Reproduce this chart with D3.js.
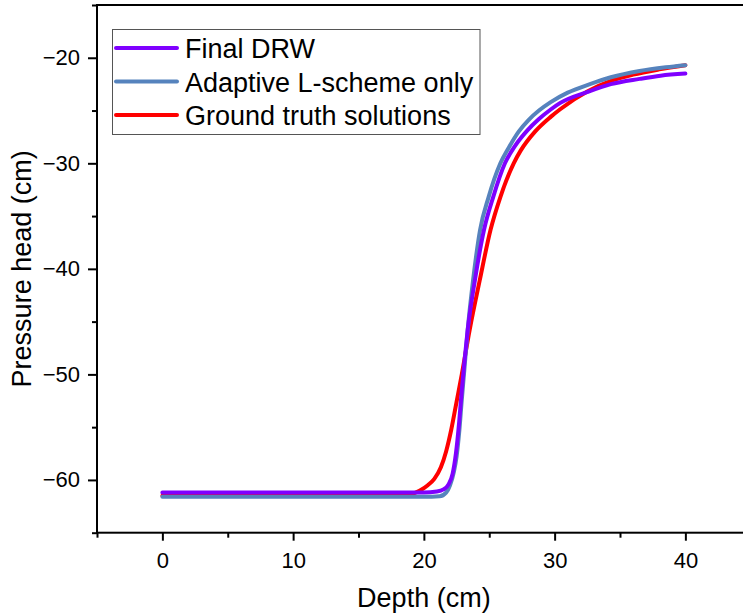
<!DOCTYPE html>
<html>
<head>
<meta charset="utf-8">
<script src="https://cdn.jsdelivr.net/npm/d3@7"></script>
<style>
  html, body { margin: 0; padding: 0; background: #fff; overflow: hidden; }
  svg { display: block; font-family: "Liberation Sans", Arial, sans-serif; }
</style>
</head>
<body>
<svg id="chart" width="743" height="613"></svg>
<script>
// Pressure head profiles along depth: [depth (cm), pressure head (cm)]
const finalDRW = [
  [0, -61.2], [10, -61.2], [20, -61.2], [21, -61.1], [21.5, -60.9], [21.9, -60.4],
  [22.2, -59.4], [22.45, -57.5], [22.7, -54.5], [22.9, -51.5], [23.1, -48.8],
  [23.35, -45.8], [23.9, -41.1], [24.6, -36.3], [25.3, -33.2], [26.2, -30.0],
  [27, -28.3], [27.9, -26.9], [28.8, -25.8], [29.7, -24.9], [30.4, -24.3],
  [32.6, -23.2], [34.3, -22.5], [36.5, -22.0], [38.1, -21.7], [40, -21.5]
];
const adaptiveL = [
  [0, -61.6], [10, -61.6], [20, -61.6], [21.2, -61.55], [21.7, -61.2], [22.0, -60.5],
  [22.3, -59.2], [22.5, -57.8], [22.7, -55.5], [22.9, -52.4], [23.1, -49.5],
  [23.35, -45.8], [23.76, -41.1], [24.3, -36.3], [24.95, -33.2], [25.85, -30.0],
  [26.5, -28.5], [27.25, -27.0], [28, -25.9], [28.8, -25.0], [29.7, -24.2],
  [31, -23.3], [32.7, -22.5], [34.3, -21.85], [36.5, -21.25], [38.5, -20.9], [40, -20.7]
];
const groundTruth = [
  [0, -61.5], [10, -61.5], [17, -61.5], [18.3, -61.45], [19, -61.35], [19.7, -61.0],
  [20.3, -60.5], [20.8, -59.9], [21.3, -58.8], [21.7, -57.3], [22.1, -55.2],
  [22.5, -52.6], [22.9, -50.0], [23.5, -45.8], [24.27, -41.1], [25.1, -36.3],
  [25.85, -33.2], [26.87, -30.0], [27.4, -28.8], [28.5, -27.0], [29.7, -25.6],
  [30.4, -24.9], [32.5, -23.2], [34.3, -22.2], [36, -21.6], [38, -21.1], [40, -20.7]
];

const seriesNames = ["Final DRW", "Adaptive L-scheme only", "Ground truth solutions"];
const seriesColors = ["#7f00ff", "#5683bd", "#ff0000"];
const seriesData = [finalDRW, adaptiveL, groundTruth];

const xMajorTicks = [0, 10, 20, 30, 40];
const xMinorTicks = [-5, 5, 15, 25, 35, 45];
const yMajorTicks = [-20, -30, -40, -50, -60];
const yMinorTicks = [-15, -25, -35, -45, -55, -65];

const svg = d3.select("#chart");
const plotLeft = 97, plotTop = 5, plotRight = 750.75, plotBottom = 532.7;

const x = d3.scaleLinear().domain([-5, 45]).range([plotLeft, plotRight]);
const y = d3.scaleLinear().domain([-65, -15]).range([plotBottom, plotTop]);

const fmt = d => d < 0 ? "\u2212" + Math.abs(d) : String(d);

// frame
svg.append("rect")
  .attr("x", plotLeft).attr("y", plotTop)
  .attr("width", plotRight - plotLeft).attr("height", plotBottom - plotTop)
  .attr("fill", "none").attr("stroke", "#000").attr("stroke-width", 2);

// bottom axis
const gx = svg.append("g").attr("transform", `translate(0,${plotBottom})`);
gx.call(d3.axisBottom(x).tickValues(xMajorTicks).tickSize(8).tickFormat(fmt));
gx.append("g").call(d3.axisBottom(x).tickValues(xMinorTicks).tickSize(5).tickFormat(""));
gx.selectAll(".domain").remove();
gx.selectAll("line").attr("stroke", "#000").attr("stroke-width", 2);
gx.selectAll("text").attr("font-size", 22).attr("fill", "#000")
  .attr("font-family", "Liberation Sans, Arial, sans-serif")
  .attr("y", 35).attr("dy", 0);

// left axis
const gy = svg.append("g").attr("transform", `translate(${plotLeft},0)`);
gy.call(d3.axisLeft(y).tickValues(yMajorTicks).tickSize(9).tickFormat(fmt));
gy.append("g").call(d3.axisLeft(y).tickValues(yMinorTicks).tickSize(5).tickFormat(""));
gy.selectAll(".domain").remove();
gy.selectAll("line").attr("stroke", "#000").attr("stroke-width", 2);
gy.selectAll("text").attr("font-size", 22).attr("fill", "#000")
  .attr("font-family", "Liberation Sans, Arial, sans-serif").attr("x", -17);

// axis titles
svg.append("text")
  .attr("x", (plotLeft + plotRight) / 2).attr("y", 607)
  .attr("text-anchor", "middle").attr("font-size", 27).attr("fill", "#000")
  .text("Depth (cm)");
svg.append("text")
  .attr("transform", `translate(31,${(plotTop + plotBottom) / 2}) rotate(-90)`)
  .attr("text-anchor", "middle").attr("font-size", 27).attr("fill", "#000")
  .text("Pressure head (cm)");

// curves
const line = d3.line()
  .x(d => x(d[0])).y(d => y(d[1]))
  .curve(d3.curveMonotoneX);

const drawOrder = [2, 1, 0];
svg.append("g").selectAll("path")
  .data(drawOrder)
  .join("path")
  .attr("d", i => line(seriesData[i]))
  .attr("fill", "none")
  .attr("stroke", i => seriesColors[i])
  .attr("stroke-width", 4)
  .attr("stroke-linejoin", "round")
  .attr("stroke-linecap", "round");

// legend
const lg = svg.append("g");
lg.append("rect")
  .attr("x", 112.5).attr("y", 29.5).attr("width", 367.5).attr("height", 105)
  .attr("fill", "#fff").attr("stroke", "#555").attr("stroke-width", 1);
seriesNames.forEach((name, i) => {
  const ly = 48 + i * 33.5;
  lg.append("line")
    .attr("x1", 116).attr("x2", 177).attr("y1", ly).attr("y2", ly)
    .attr("stroke", seriesColors[i]).attr("stroke-width", 4).attr("stroke-linecap", "round");
  lg.append("text")
    .attr("x", 185).attr("y", ly + 10)
    .attr("font-size", 27).attr("fill", "#000")
    .text(name);
});
</script>
</body>
</html>
